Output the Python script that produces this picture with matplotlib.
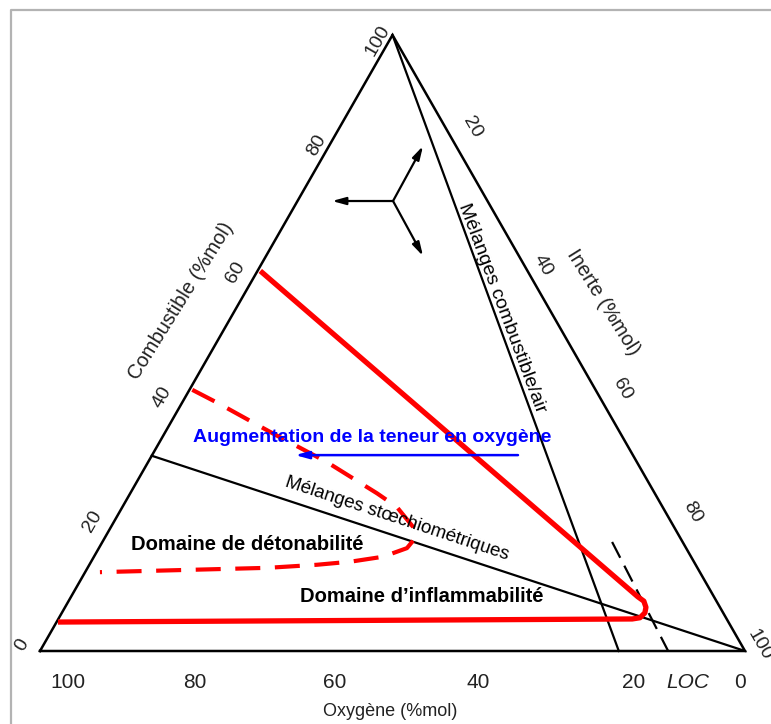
import numpy as np
import matplotlib
matplotlib.use('Agg')
import matplotlib.pyplot as plt

plt.rcParams['font.family'] = ['Liberation Sans', 'DejaVu Sans']

# ternary data, in %mol (fuel, inert); oxygen = 100 - fuel - inert
tick_vals = [0, 20, 40, 60, 80, 100]
oxy_ticks = [100, 80, 60, 40, 20, 0]

# stoichiometric line and fuel/air line
stoich_fuel = [31.7, 0.0]
stoich_inert = [0.0, 100.0]
air_fuel = [100.0, 0.0]
air_inert = [0.0, 82.1]

# LOC (constant oxygen)
loc_fuel = [17.7, 0.0]
loc_inert = [72.3, 89.1]

# flammability envelope
flam_fuel = [61.7, 8.8, 8.1, 7.1, 6.2, 5.4, 5.2, 4.7]
flam_inert = [0.4, 80.4, 81.6, 82.4, 82.7, 82.4, 81.4, 0.2]

# detonability envelope
deto_fuel = [42.4, 40.3, 35.4, 30.7, 25.6, 23.4, 20.1, 18.5, 16.7, 15.3, 14.5, 14.0, 13.5, 12.8]
deto_inert = [0.4, 5.0, 15.2, 25.3, 35.0, 38.9, 42.9, 44.1, 43.7, 41.0, 36.8, 32.3, 25.5, 2.1]

# direction triad: centre then the three tips
triad_c = (73.05, 13.55)
triad_tips = [(73.05, 4.9), (81.98, 13.34), (64.12, 22.27)]

# oxygen arrow
oxy_arrow_fuel = 31.8
oxy_arrow_inert = [51.9, 20.3]

W = 705.0
H = 616.0 / 705.0


def tern(fuel, inert):
    f = np.asarray(fuel, dtype=float) / 100
    i = np.asarray(inert, dtype=float) / 100
    return i + f / 2, f * H


def pix(x, y):
    return (x - 40) / W, (651 - y) / W


fig = plt.figure(figsize=(7.71, 7.24), dpi=100)
ax = fig.add_axes([0, 0, 1, 1])
ax.set_xlim(-40 / W, 731 / W)
ax.set_ylim(-73 / W, 651 / W)
ax.axis('off')

# grey frame (top/left visible)
bx, by = zip(pix(11, 730), pix(11, 9.5), pix(790, 9.5))
ax.plot(bx, by, color='#b3b3b3', lw=1.6, solid_capstyle='butt')

# triangle
tx, ty = tern([0, 100, 0, 0], [0, 0, 100, 0])
ax.plot(tx, ty, color='black', lw=1.8, solid_joinstyle='miter')

ax.plot(*tern(stoich_fuel, stoich_inert), color='black', lw=1.6)
ax.plot(*tern(air_fuel, air_inert), color='black', lw=1.6)
ax.plot(*tern(loc_fuel, loc_inert), color='black', lw=1.6, linestyle=(0, (8, 4)))

ax.plot(*tern(flam_fuel, flam_inert), color='red', lw=3.8,
        solid_joinstyle='round', solid_capstyle='butt')
ax.plot(*tern(deto_fuel, deto_inert), color='red', lw=3.0,
        linestyle=(0, (6, 3.5)))

# triad arrows
cx, cy = tern(*triad_c)
for tip in triad_tips:
    ex, ey = tern(*tip)
    ax.annotate('', xy=(ex, ey), xytext=(cx, cy),
                arrowprops=dict(arrowstyle='-|>,head_length=0.8,head_width=0.22',
                                color='black', lw=1.6, shrinkA=0, shrinkB=0))

# oxygen arrow
ax1x, ax1y = tern(oxy_arrow_fuel, oxy_arrow_inert[0])
ax2x, ax2y = tern(oxy_arrow_fuel, oxy_arrow_inert[1])
ax.annotate('', xy=(ax2x, ax2y), xytext=(ax1x, ax1y),
            arrowprops=dict(arrowstyle='-|>,head_length=0.8,head_width=0.22',
                            color='blue', lw=1.8, shrinkA=0, shrinkB=0))
ax.text(*pix(372, 437), 'Augmentation de la teneur en oxygène', color='blue',
        fontsize=14, fontweight='bold', ha='center', va='center')

# tick labels
tc = '#222222'
left_nudge = [(-18, -6), (-18, -6), (-19, -7), (-16, -9), (-5, -13), (-15, 6)]
for v, (dx, dy) in zip(tick_vals, left_nudge):
    x, y = tern(v, 0)
    ax.text(x + dx / W, y - dy / W, str(v), color=tc, fontsize=14,
            rotation=60, ha='center', va='center')

right_nudge = [(9, -31), (9.5, -16), (18, -15), (17.5, -16), (15, -6)]
for v, (dx, dy) in zip(tick_vals[1:], right_nudge):
    x, y = tern(100 - v, v)
    ax.text(x + dx / W, y - dy / W, str(v), color=tc, fontsize=14,
            rotation=-60, ha='center', va='center')

bottom_nudge = [28, 14, 13, 15, 30, -5]
for v, dx in zip(oxy_ticks, bottom_nudge):
    x, y = tern(0, 100 - v)
    ax.text(x + dx / W, y - 32 / W, str(v), color=tc, fontsize=15,
            ha='center', va='center')
lx, ly = tern(loc_fuel[1], loc_inert[1])
ax.text(lx + 20 / W, ly - 32 / W, 'LOC', color=tc, fontsize=15,
        style='italic', ha='center', va='center')

# axis titles
ax.text(*pix(390, 712), 'Oxygène (%mol)', color=tc, fontsize=13,
        ha='center', va='center')
ax.text(*pix(181, 301), 'Combustible (%mol)', color=tc, fontsize=14.5,
        rotation=58, ha='center', va='center')
ax.text(*pix(603, 302), 'Inerte (%mol)', color=tc, fontsize=14.5,
        rotation=-58, ha='center', va='center')

# line labels
ax.text(*pix(502, 308), 'Mélanges combustible/air', color='black', fontsize=14,
        rotation=-69.5, ha='center', va='center')
ax.text(*pix(397, 519), 'Mélanges stœchiométriques', color='black', fontsize=13.5,
        rotation=-18.3, ha='center', va='center')

# domains
ax.text(*pix(247, 544), 'Domaine de détonabilité', color='black', fontsize=14.5,
        fontweight='bold', ha='center', va='center')
ax.text(*pix(422, 597), 'Domaine d\u2019inflammabilité', color='black', fontsize=14.5,
        fontweight='bold', ha='center', va='center')

fig.savefig('out.png', dpi=100)
